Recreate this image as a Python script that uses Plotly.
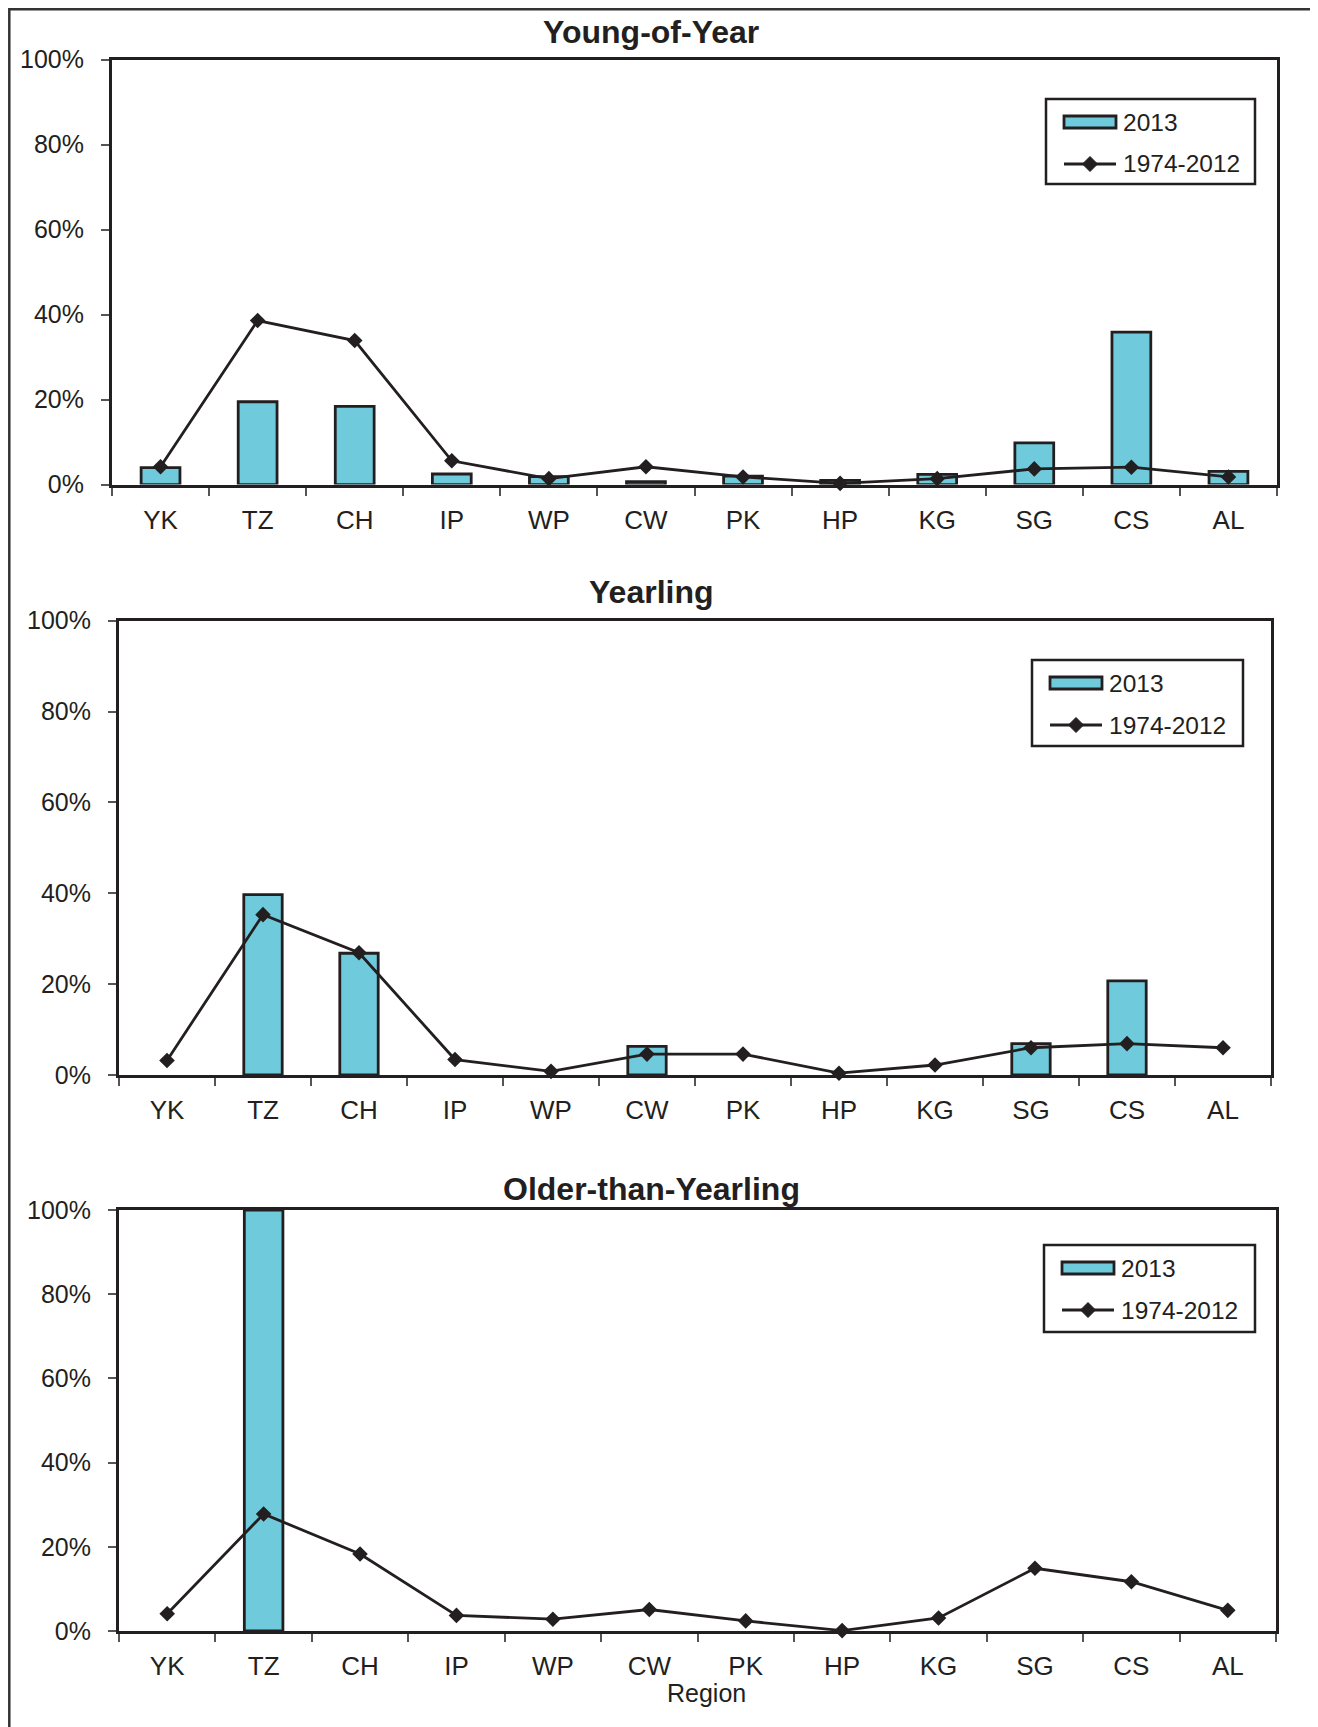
import plotly.graph_objects as go

# ---------------- data ----------------
regions = ["YK", "TZ", "CH", "IP", "WP", "CW", "PK", "HP", "KG", "SG", "CS", "AL"]

yoy_2013 = [4.0, 19.5, 18.4, 2.5, 1.9, 0.7, 2.0, 1.0, 2.4, 9.8, 35.9, 3.1]
yoy_hist = [4.2, 38.6, 33.9, 5.6, 1.4, 4.2, 1.8, 0.3, 1.4, 3.7, 4.1, 1.8]

yrl_2013 = [0.0, 39.7, 26.8, 0.0, 0.0, 6.3, 0.0, 0.0, 0.0, 6.9, 20.7, 0.0]
yrl_hist = [3.2, 35.3, 26.9, 3.4, 0.8, 4.6, 4.6, 0.4, 2.2, 6.0, 6.9, 6.0]

old_2013 = [0.0, 100.0, 0.0, 0.0, 0.0, 0.0, 0.0, 0.0, 0.0, 0.0, 0.0, 0.0]
old_hist = [4.1, 27.8, 18.3, 3.7, 2.8, 5.1, 2.4, 0.1, 3.1, 14.9, 11.7, 4.9]

titles = ["Young-of-Year", "Yearling", "Older-than-Yearling"]
legend_labels = ["2013", "1974-2012"]
y_ticks = [0, 20, 40, 60, 80, 100]
x_title = "Region"

# ---------------- style ----------------
W, H = 1318, 1727
OFFX, OFFY = 6, 8  # page margin that the browser adds around the figure
FONT = "Liberation Sans, Arial, Helvetica, sans-serif"
INK = "#231f20"
BAR = "#6fcbdc"

# panel geometry in page pixels: (left, right, top, bottom)
panels = [(110, 1275, 59.6, 484.6), (117, 1269, 620.7, 1075), (117, 1274, 1210, 1631)]
title_y = [32, 592, 1189]
legend_boxes = [(1044, 99, 1253, 184), (1030, 660, 1241, 746), (1042, 1245, 1253, 1332)]


def px(x):
    return (x - OFFX) / W


def py(y):
    return 1 - (y - OFFY) / H


fig = go.Figure()
series = [(yoy_2013, yoy_hist), (yrl_2013, yrl_hist), (old_2013, old_hist)]

for i, (bars, hist) in enumerate(series):
    n = "" if i == 0 else str(i + 1)
    fig.add_trace(go.Bar(
        x=regions, y=bars, xaxis="x" + n, yaxis="y" + n, width=0.4,
        marker=dict(color=BAR, line=dict(color=INK, width=[2.8 if v > 0 else 0 for v in bars])),
        showlegend=False, name=legend_labels[0]))
    fig.add_trace(go.Scatter(
        x=regions, y=hist, xaxis="x" + n, yaxis="y" + n, mode="lines+markers",
        line=dict(color=INK, width=2.8),
        marker=dict(symbol="diamond", size=12, color=INK),
        showlegend=False, name=legend_labels[1], cliponaxis=False))

layout = dict(
    width=W, height=H, margin=dict(l=0, r=0, t=0, b=0, pad=0, autoexpand=False),
    paper_bgcolor="white", plot_bgcolor="white",
    font=dict(family=FONT, color=INK, size=25),
    showlegend=False, bargap=0.6,
)

annotations = []
shapes = []

for i, (l, r, t, b) in enumerate(panels):
    n = "" if i == 0 else str(i + 1)
    layout["xaxis" + n] = dict(
        domain=[px(l), px(r)], anchor="y" + n, type="category",
        categoryorder="array", categoryarray=regions,
        range=[-0.5, len(regions) - 0.5], automargin=False,
        showline=True, linecolor=INK, linewidth=3, mirror=True,
        ticks="outside", tickson="boundaries", ticklen=8, tickwidth=1.5, tickcolor="#555",
        tickfont=dict(size=26, color=INK, family=FONT), ticklabelstandoff=10,
        showgrid=False, zeroline=False, fixedrange=True,
    )
    layout["yaxis" + n] = dict(
        domain=[py(b), py(t)], anchor="x" + n, range=[0, 100], automargin=False,
        tickvals=y_ticks, ticktext=[f"{v}%" for v in y_ticks],
        showline=True, linecolor=INK, linewidth=3, mirror=True,
        ticks="outside", ticklen=8, tickwidth=1.5, tickcolor="#555",
        tickfont=dict(size=25, color=INK, family=FONT), ticklabelstandoff=12,
        showgrid=False, zeroline=False, fixedrange=True,
    )
    annotations.append(dict(
        text="<b>" + titles[i] + "</b>", x=px(649), y=py(title_y[i]),
        xref="paper", yref="paper", xanchor="center", yanchor="middle",
        showarrow=False, font=dict(size=32, color=INK, family=FONT)))

    # legend box
    bx0, by0, bx1, by1 = legend_boxes[i]
    shapes.append(dict(type="rect", xref="paper", yref="paper",
                       x0=px(bx0), x1=px(bx1), y0=py(by0), y1=py(by1),
                       line=dict(color=INK, width=2.5), fillcolor="white", layer="above"))
    r1 = by0 + 23
    r2 = by0 + 65
    sx0, sx1 = bx0 + 18, bx0 + 70
    shapes.append(dict(type="rect", xref="paper", yref="paper",
                       x0=px(sx0), x1=px(sx1), y0=py(r1 - 6), y1=py(r1 + 6),
                       line=dict(color=INK, width=2.8), fillcolor=BAR, layer="above"))
    shapes.append(dict(type="line", xref="paper", yref="paper",
                       x0=px(sx0), x1=px(sx1), y0=py(r2), y1=py(r2),
                       line=dict(color=INK, width=2.8), layer="above"))
    shapes.append(dict(type="path", xref="paper", yref="paper",
                       xsizemode="pixel", ysizemode="pixel",
                       xanchor=px((sx0 + sx1) / 2), yanchor=py(r2),
                       path="M0,7.5L7.5,0L0,-7.5L-7.5,0Z",
                       line=dict(color=INK, width=1), fillcolor=INK, layer="above"))
    for lbl, ry in zip(legend_labels, (r1, r2)):
        annotations.append(dict(
            text=lbl, x=px(bx0 + 75), y=py(ry), xref="paper", yref="paper",
            xanchor="left", yanchor="middle", showarrow=False,
            font=dict(size=24.5, color=INK, family=FONT)))

# x-axis title of the bottom panel
annotations.append(dict(
    text=x_title, x=px(704), y=py(1693), xref="paper", yref="paper",
    xanchor="center", yanchor="middle", showarrow=False,
    font=dict(size=25, color=INK, family=FONT)))

# outer frame (bottom edge runs past the page)
shapes.append(dict(type="rect", xref="paper", yref="paper",
                   x0=px(OFFX + 1.3), x1=px(1312), y0=py(1780), y1=py(OFFY + 1.3),
                   line=dict(color="#333", width=2.5), fillcolor="rgba(0,0,0,0)", layer="below"))

layout["annotations"] = annotations
layout["shapes"] = shapes
fig.update_layout(**layout)

fig.write_html("out.html")
